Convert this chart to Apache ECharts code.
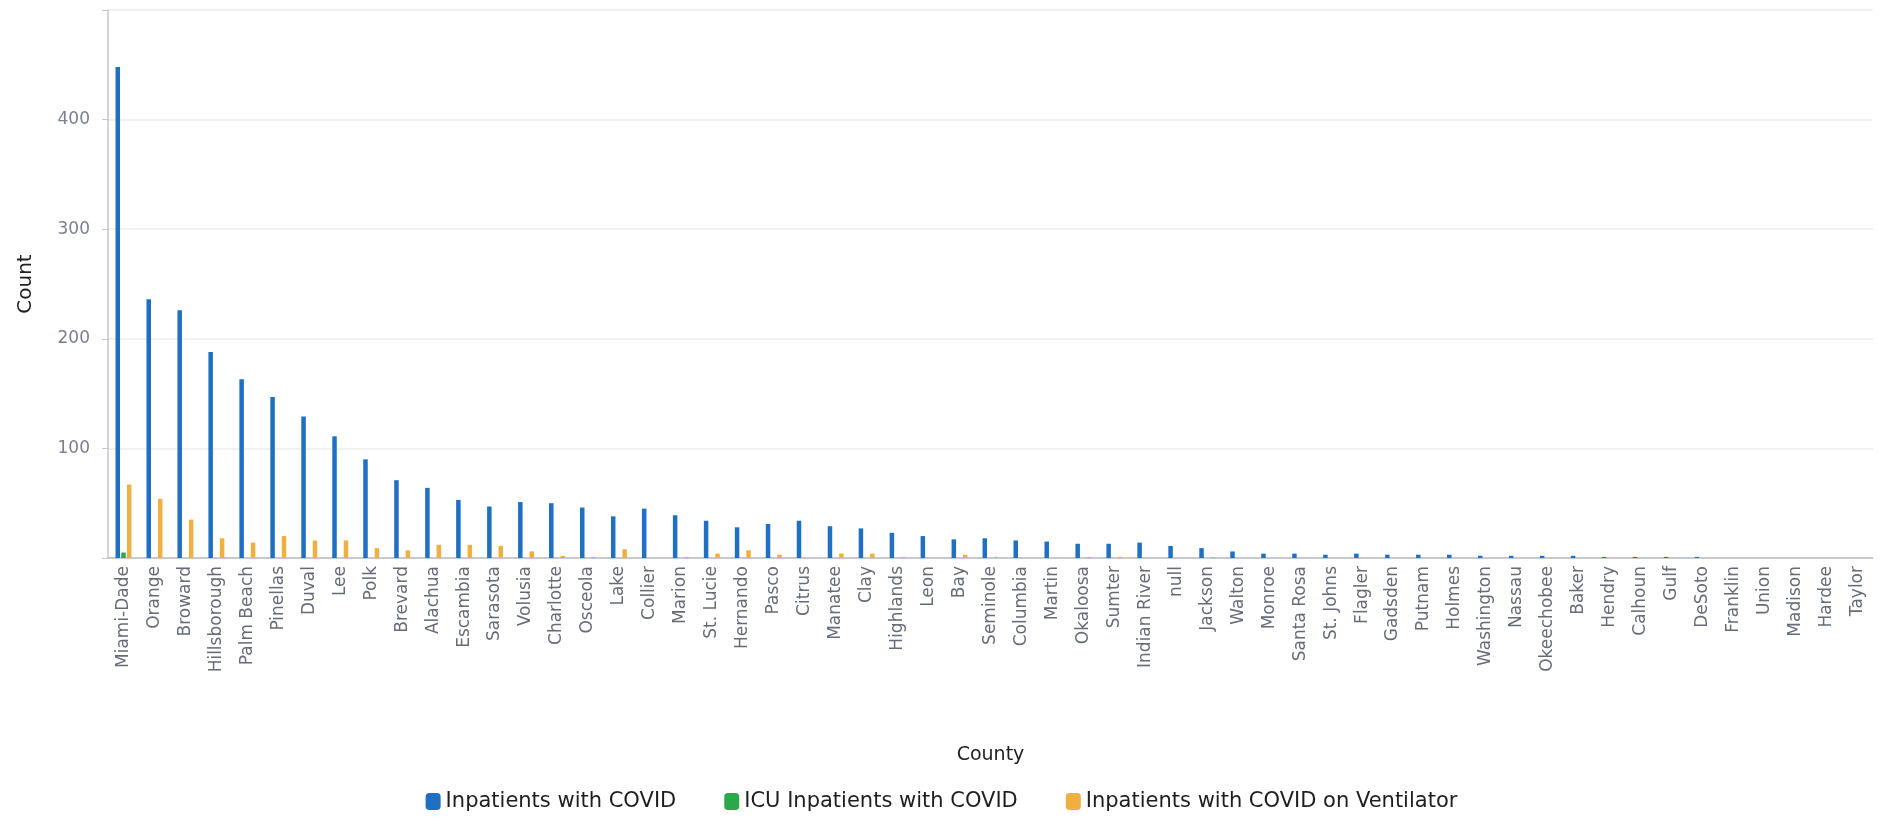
<!DOCTYPE html>
<html>
<head>
<meta charset="utf-8">
<title>County</title>
<script src="https://cdn.jsdelivr.net/npm/echarts@6/dist/echarts.min.js"></script>
<style>
    html, body { margin: 0; padding: 0; background: #fff; }
    #chart { width: 1883px; height: 819px; }
</style>
</head>
<body>
<div id="chart"></div>
<script>
// 县名（横轴）
var counties = ['Miami-Dade', 'Orange', 'Broward', 'Hillsborough', 'Palm Beach', 'Pinellas', 'Duval', 'Lee', 'Polk', 'Brevard',
    'Alachua', 'Escambia', 'Sarasota', 'Volusia', 'Charlotte', 'Osceola', 'Lake', 'Collier', 'Marion', 'St. Lucie',
    'Hernando', 'Pasco', 'Citrus', 'Manatee', 'Clay', 'Highlands', 'Leon', 'Bay', 'Seminole', 'Columbia',
    'Martin', 'Okaloosa', 'Sumter', 'Indian River', 'null', 'Jackson', 'Walton', 'Monroe', 'Santa Rosa', 'St. Johns',
    'Flagler', 'Gadsden', 'Putnam', 'Holmes', 'Washington', 'Nassau', 'Okeechobee', 'Baker', 'Hendry', 'Calhoun',
    'Gulf', 'DeSoto', 'Franklin', 'Union', 'Madison', 'Hardee', 'Taylor'];

// Inpatients with COVID
var inpatients = [448, 236, 226, 188, 163, 147, 129, 111, 90, 71,
    64, 53, 47, 51, 50, 46, 38, 45, 39, 34,
    28, 31, 34, 29, 27, 23, 20, 17, 18, 16,
    15, 13, 13, 14, 11, 9, 6, 4, 4, 3,
    4, 3, 3, 3, 2, 2, 2, 2, 1, 1,
    1, 1, 0, 0, 0, 0, 0];

// ICU Inpatients with COVID
var icu = [5, 0, 0, 0, 0, 0, 0, 0, 0, 0,
    0, 0, 0, 0, 0, 0, 0, 0, 0, 0,
    0, 0, 0, 0, 0, 0, 0, 0, 0, 0,
    0, 0, 0, 0, 0, 0, 0, 0, 0, 0,
    0, 0, 0, 0, 0, 0, 0, 0, 0, 0,
    0, 0, 0, 0, 0, 0, 0];

// Inpatients with COVID on Ventilator
var ventilator = [67, 54, 35, 18, 14, 20, 16, 16, 9, 7,
    12, 12, 11, 6, 2, 1, 8, 0, 1, 4,
    7, 3, 0, 4, 4, 1, 0, 3, 1, 0,
    0, 1, 1, 0, 0, 1, 0, 0, 0, 0,
    0, 0, 0, 0, 0, 0, 0, 0, 0, 0,
    0, 0, 0, 0, 0, 0, 0];

var yTicks = [100, 200, 300, 400];

var seriesNames = ['Inpatients with COVID', 'ICU Inpatients with COVID', 'Inpatients with COVID on Ventilator'];

var fontName = 'DejaVu Sans';

var option = {
    animation: false,
    color: ['#1f6fc3', '#2ba84a', '#eeb040'],
    grid: {
        left: 108,
        right: 10,
        top: 10,
        bottom: 261,
        containLabel: false
    },
    legend: {
        data: seriesNames,
        left: 'center',
        top: 786,
        itemWidth: 15,
        itemHeight: 17,
        itemGap: 48,
        icon: 'roundRect',
        textStyle: {
            fontFamily: fontName,
            fontSize: 21,
            color: '#1e1e1e'
        }
    },
    xAxis: {
        type: 'category',
        data: counties,
        name: 'County',
        nameLocation: 'middle',
        nameGap: 188,
        nameTextStyle: {
            fontFamily: fontName,
            fontSize: 19,
            color: '#1e1e1e'
        },
        axisLine: { lineStyle: { color: '#b8bcc4', width: 1.5 } },
        axisTick: { alignWithLabel: true, length: 5, lineStyle: { color: '#b8bcc4' } },
        axisLabel: {
            interval: 0,
            rotate: 90,
            margin: 8,
            fontFamily: fontName,
            fontSize: 17,
            color: '#666b78'
        }
    },
    yAxis: {
        type: 'value',
        min: 0,
        max: 500,
        interval: 100,
        name: 'Count',
        nameLocation: 'middle',
        nameGap: 72,
        nameTextStyle: {
            fontFamily: fontName,
            fontSize: 20,
            color: '#1e1e1e'
        },
        axisLine: { show: true, lineStyle: { color: '#c4c4cc', width: 1.5 } },
        axisTick: { show: true, length: 6, lineStyle: { color: '#c4c4cc' } },
        axisLabel: {
            margin: 18,
            fontFamily: fontName,
            fontSize: 17,
            color: '#7a8090',
            formatter: function (v) {
                // 只显示 100~400
                return yTicks.indexOf(v) >= 0 ? String(v) : '';
            }
        },
        splitLine: { show: true, lineStyle: { color: '#ececec', width: 1.5 } }
    },
    series: [
        {
            name: seriesNames[0],
            type: 'bar',
            barWidth: 4.5,
            barGap: '27%',
            data: inpatients
        },
        {
            name: seriesNames[1],
            type: 'bar',
            barWidth: 4.5,
            data: icu
        },
        {
            name: seriesNames[2],
            type: 'bar',
            barWidth: 4.5,
            data: ventilator
        }
    ]
};

var myChart = echarts.init(document.getElementById('chart'));
myChart.setOption(option);
</script>
</body>
</html>
